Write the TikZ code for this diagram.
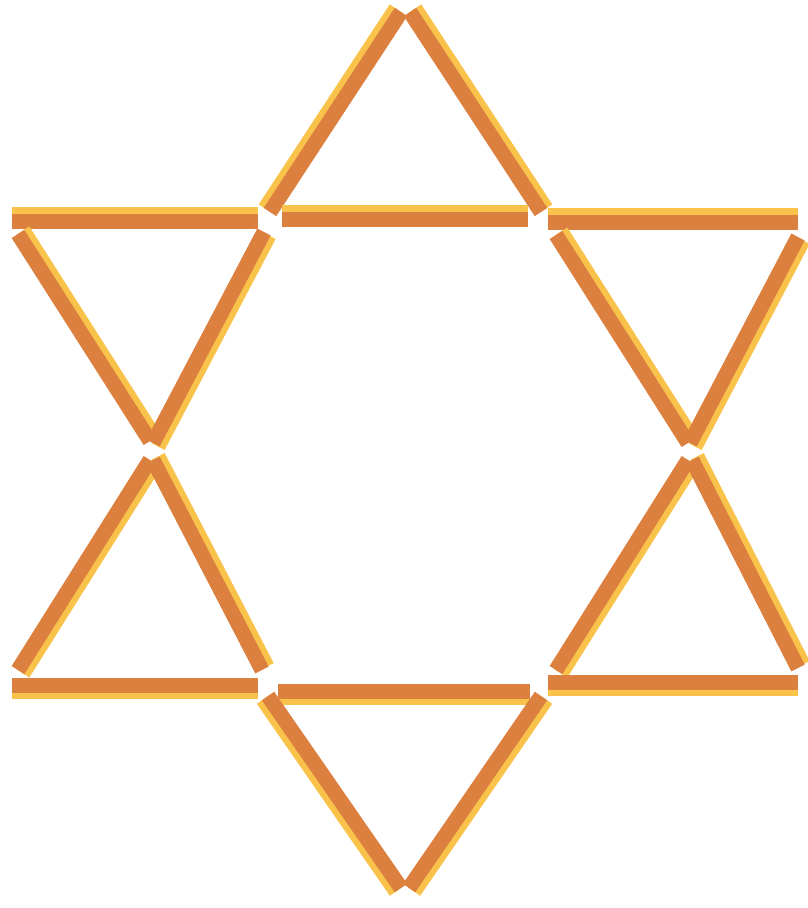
\documentclass[tikz,border=0pt]{standalone}
\definecolor{stickorange}{HTML}{DC8040}
\definecolor{stickyellow}{HTML}{F9C24A}
\tikzset{
  stickhalo/.style={line width=15pt, stickyellow, line cap=butt},
  stickcore/.style={line width=15pt, stickorange, line cap=butt}
}
% #1,#2 -> #3,#4 : stick centre line; #5,#6 : offset of the yellow side
\newcommand{\matchstick}[6]{%
  \draw[stickhalo,shift={(#5,#6)}] (#1,#2) -- (#3,#4);
  \draw[stickcore] (#1,#2) -- (#3,#4);
}
\begin{document}
\begin{tikzpicture}[x=1pt,y=-1pt]
\useasboundingbox (0,0) rectangle (808,908);
% top triangle
\matchstick{270}{212}{401}{12}{-5}{-3.5}
\matchstick{410}{12}{541}{212}{5}{-3.5}
\matchstick{282}{219}{528}{219}{0}{-6.5}
% upper-left triangle
\matchstick{12}{221}{258}{221}{0}{-6.5}
\matchstick{18}{234}{150}{441}{5}{-3.5}
\matchstick{264}{232}{153}{443}{5}{3.5}
% lower-left triangle
\matchstick{150}{460}{18}{670}{5}{3.5}
\matchstick{153}{460}{262}{670}{5}{-3.5}
\matchstick{12}{685}{258}{685}{0}{6.5}
% bottom triangle
\matchstick{278}{691}{530}{691}{0}{6.5}
\matchstick{268}{696}{401}{888}{-5}{3.5}
\matchstick{541}{696}{409}{888}{5}{3.5}
% upper-right triangle
\matchstick{548}{222}{798}{222}{0}{-6.5}
\matchstick{556}{235}{688}{443}{5}{-3.5}
\matchstick{798}{237}{690}{443}{5}{3.5}
% lower-right triangle
\matchstick{688}{460}{556}{670}{5}{3.5}
\matchstick{692}{460}{798}{668}{5}{-3.5}
\matchstick{548}{682}{798}{682}{0}{6.5}
\end{tikzpicture}
\end{document}
